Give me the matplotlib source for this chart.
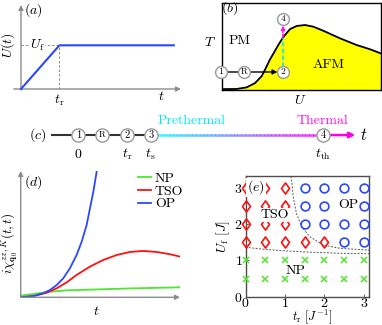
import numpy as np
import matplotlib
matplotlib.use("Agg")
import matplotlib.pyplot as plt
from matplotlib.collections import LineCollection
from matplotlib.colors import to_rgb
from matplotlib.path import Path

plt.rcParams['font.family'] = ['cmr10', 'DejaVu Serif']
plt.rcParams['mathtext.fontset'] = 'cm'
plt.rcParams['axes.unicode_minus'] = False
plt.rcParams['axes.formatter.use_mathtext'] = True

# ---------------- data ----------------
# (a) ramp protocol
ramp_t = [0.0, 0.24, 0.955]
ramp_U = [0.0, 0.52, 0.52]
t_r_a = 0.24
U_f_a = 0.52

# (b) phase boundary T_N(U)
U_b = [0.0, 0.092, 0.155, 0.208, 0.25, 0.275, 0.30, 0.33, 0.354, 0.386, 0.428,
       0.47, 0.522, 0.574, 0.637, 0.742, 0.847, 0.931, 1.0]
T_b = [0.01, 0.012, 0.03, 0.08, 0.16, 0.25, 0.345, 0.44, 0.517, 0.61, 0.70,
       0.736, 0.747, 0.728, 0.681, 0.594, 0.517, 0.468, 0.42]
node_b_labels = ['1', 'R', '2', '4']
node_b_U = [-0.006, 0.138, 0.384, 0.384]
node_b_T = [0.207, 0.207, 0.207, 0.816]

# (c) timeline
tl_labels = ['1', 'R', '2', '3', '4']
tl_pos = [0.205, 0.268, 0.332, 0.3945, 0.846]
tl_ticks = ['$0$', '', r'$t_{\rm r}$', r'$t_{\rm s}$', r'$t_{\rm th}$']

# (d) susceptibility curves
t_OP = [0, 0.0797, 0.142, 0.184, 0.226, 0.267, 0.309, 0.351, 0.383, 0.414, 0.435, 0.456, 0.477]
y_OP = [0, 0.010, 0.032, 0.058, 0.097, 0.150, 0.230, 0.335, 0.441, 0.573, 0.705, 0.837, 0.996]
t_TSO = [0, 0.0797, 0.163, 0.226, 0.289, 0.351, 0.435, 0.519, 0.603, 0.686, 0.770, 0.854, 0.937, 1.0]
y_TSO = [0, 0.010, 0.036, 0.071, 0.119, 0.177, 0.243, 0.296, 0.335, 0.359, 0.367, 0.359, 0.341, 0.322]
t_NP = [0, 0.0797, 0.184, 0.289, 0.498, 0.707, 1.0]
y_NP = [0.013, 0.026, 0.044, 0.055, 0.063, 0.071, 0.079]

# (e) phase diagram
tr_vals = [0, 0.5, 1, 1.5, 2, 2.5, 3]
Uf_vals = [0.5, 1.0, 1.5, 2.0, 2.5, 3.0]
phase_rows = ['NNNNNNN', 'NNNNNNN', 'TTTTTOO', 'TTTOOOO', 'TTTOOOO', 'TTTOOOO']
low_x = [0, 0.5, 1, 1.5, 2, 2.5, 3.14]
low_y = [1.36, 1.30, 1.26, 1.23, 1.21, 1.19, 1.18]
up_x = [1.15, 1.17, 1.21, 1.29, 1.42, 1.63, 1.97, 2.40, 3.14]
up_y = [3.31, 3.20, 2.75, 2.30, 1.93, 1.65, 1.42, 1.33, 1.28]

GREEN = '#4ee62e'
RED = '#ff1010'
BLUE = '#2a48ff'
CYAN = '#00e6f2'
MAGENTA = '#ff10e0'

W, H = 382, 325
fig = plt.figure(figsize=(W / 100, H / 100), dpi=100)


def px_axes(x0, y0, x1, y1):
    return fig.add_axes([x0 / W, 1 - y1 / H, (x1 - x0) / W, (y1 - y0) / H])


def arrow(ax, start, end, color='0.5', lw=1.0, ms=7):
    ax.annotate('', xy=end, xytext=start,
                arrowprops=dict(arrowstyle='-|>', color=color, lw=lw,
                                mutation_scale=ms, shrinkA=0, shrinkB=0),
                annotation_clip=False)


def node(ax, x, y, label, ms=8.5, fs=7):
    ax.plot([x], [y], 'o', ms=ms, mfc='white', mec='0.6', mew=1.0,
            zorder=5, clip_on=False)
    ax.text(x, y, label, ha='center', va='center', fontsize=fs, zorder=6)


# ---------------- (a) ----------------
ax = px_axes(21, 5, 181, 89)
ax.set_xlim(0, 1); ax.set_ylim(0, 1); ax.axis('off')
arrow(ax, (-0.045, 0), (1.0, 0), color='0.55', lw=1.0)
arrow(ax, (0, -0.01), (0, 1.0), color='0.55', lw=1.0)
ax.plot([0, t_r_a], [U_f_a, U_f_a], ls=(0, (2.5, 2)), color='0.55', lw=0.7, clip_on=False)
ax.plot([t_r_a, t_r_a], [0, U_f_a], ls=(0, (2.5, 2)), color='0.55', lw=0.7, clip_on=False)
ax.plot(ramp_t, ramp_U, color=BLUE, lw=1.5, clip_on=False, zorder=4)
ax.text(0.10, U_f_a, r'$U_{\rm f}$', ha='center', va='center', fontsize=10,
        bbox=dict(fc='white', ec='none', pad=0.5), zorder=3)
ax.text(t_r_a, -0.13, r'$t_{\rm r}$', ha='center', va='center', fontsize=10)
ax.text(0.875, -0.095, r'$t$', ha='center', va='center', fontsize=10)
ax.text(-0.08, 0.52, r'$U(t)$', ha='center', va='center', fontsize=10, rotation=90)
ax.text(0.08, 0.94, r'$(a)$', ha='center', va='center', fontsize=10)

# ---------------- (b) ----------------
ax = px_axes(222, 3, 381, 90)
ax.set_xlim(0, 1); ax.set_ylim(0, 1)
ax.set_xticks([]); ax.set_yticks([])
for s in ax.spines.values():
    s.set_linewidth(1.0)
ax.fill_between(U_b, 0, T_b, color='#ffff00', lw=0)
ax.plot(U_b, T_b, color='black', lw=1.3)
arrow(ax, (node_b_U[0], node_b_T[0]), (node_b_U[2] - 0.035, node_b_T[2]), color='black', lw=1.0)
ax.plot([node_b_U[2]] * 2, [0.27, 0.594], ls=(0, (3, 1.5)), color=CYAN, lw=1.1)
ax.plot([node_b_U[2]] * 2, [0.594, 0.66], ls=(0, (3, 1.5)), color=MAGENTA, lw=1.1)
arrow(ax, (node_b_U[3], 0.66), (node_b_U[3], 0.74), color=MAGENTA, lw=1.0, ms=6)
for lab, x, y in zip(node_b_labels, node_b_U, node_b_T):
    node(ax, x, y, lab, fs=6.5 if lab == 'R' else 7)
ax.text(-0.075, 0.55, r'$T$', ha='center', va='center', fontsize=10)
ax.text(0.49, -0.115, r'$U$', ha='center', va='center', fontsize=10)
ax.text(0.05, 0.945, r'$(b)$', ha='center', va='center', fontsize=10)
ax.text(0.113, 0.567, 'PM', ha='center', va='center', fontsize=10)
ax.text(0.667, 0.287, 'AFM', ha='center', va='center', fontsize=10)

# ---------------- (c) ----------------
ax = px_axes(0, 110, 382, 165)
ax.set_xlim(0, 1); ax.set_ylim(0, 1); ax.axis('off')
yl = 0.545
ax.plot([0.135, tl_pos[3]], [yl, yl], color='0.2', lw=1.5, zorder=2)
xs = np.linspace(0.408, 0.832, 120)
segs = [[(xs[i], yl), (xs[i + 1], yl)] for i in range(len(xs) - 1)]
c0, c1 = np.array(to_rgb('#00ffff')), np.array(to_rgb('#ff00ff'))
cols = [tuple(c0 + (c1 - c0) * f) for f in np.linspace(0, 1, len(segs))]
ax.add_collection(LineCollection(segs, colors=cols, lw=1.8, zorder=2, capstyle='butt'))
arrow(ax, (0.859, yl), (0.930, yl), color='#ff00e6', lw=1.8, ms=8)
for lab, x, tk in zip(tl_labels, tl_pos, tl_ticks):
    node(ax, x, yl, lab, ms=9.5, fs=7.5 if lab != 'R' else 6.5)
    if tk:
        ax.text(x, 0.20, tk, ha='center', va='center', fontsize=10)
ax.text(0.951, yl, r'$t$', ha='center', va='center', fontsize=12)
ax.text(0.098, yl, r'$(c)$', ha='center', va='center', fontsize=10)
ax.text(0.502, 0.80, 'Prethermal', ha='center', va='center', fontsize=10, color=CYAN)
ax.text(0.845, 0.80, 'Thermal', ha='center', va='center', fontsize=10, color=MAGENTA)

# ---------------- (d) ----------------
ax = px_axes(20.7, 171, 180, 297.3)
ax.set_xlim(0, 1); ax.set_ylim(0, 1); ax.axis('off')
arrow(ax, (0, 0), (1.0, 0), color='0.55', lw=1.0)
arrow(ax, (0, 0), (0, 1.0), color='0.55', lw=1.0)
ax.plot(t_NP, y_NP, color=GREEN, lw=1.3, label='NP')
ax.plot(t_TSO, y_TSO, color=RED, lw=1.3, label='TSO')
ax.plot(t_OP, y_OP, color=BLUE, lw=1.3, label='OP')
ax.legend(loc='upper right', bbox_to_anchor=(1.02, 0.99), frameon=False,
          fontsize=10, handlelength=0.9, handletextpad=0.3, labelspacing=0.0,
          borderpad=0, borderaxespad=0)
ax.text(-0.068, 0.43, r'$i\chi^{zz,K}_{\mathbf{q_0}}(t,t)$', ha='center', va='center',
        fontsize=9.5, rotation=90)
ax.text(0.477, -0.114, r'$t$', ha='center', va='center', fontsize=10)
ax.text(0.079, 0.915, r'$(d)$', ha='center', va='center', fontsize=10)

# ---------------- (e) ----------------
ax = px_axes(245.5, 176.3, 369.3, 296.7)
ax.set_xlim(0, 3.14); ax.set_ylim(0, 3.31)
ax.set_xticks([0, 1, 2, 3]); ax.set_yticks([0, 1, 2, 3])
ax.tick_params(direction='in', length=2, width=0.6, labelsize=10, color='0.3')
ax.tick_params(axis='x', pad=0.5)
ax.tick_params(axis='y', pad=2)
for s in ax.spines.values():
    s.set_linewidth(1.0); s.set_color('0.3')
diamond = Path([(0, 1), (0.72, 0), (0, -1), (-0.72, 0), (0, 1)],
               [Path.MOVETO, Path.LINETO, Path.LINETO, Path.LINETO, Path.CLOSEPOLY])
style = {'N': dict(marker='x', ms=4.3, mew=1.1, color=GREEN, ls='none'),
         'T': dict(marker=diamond, ms=8, mew=1.2, mfc='none', mec=RED, ls='none'),
         'O': dict(marker='o', ms=6.3, mew=1.2, mfc='none', mec=BLUE, ls='none')}
for Uf, row in zip(Uf_vals, phase_rows):
    for key in 'NTO':
        xs_ = [tr for tr, c in zip(tr_vals, row) if c == key]
        if xs_:
            ax.plot(xs_, [Uf] * len(xs_), clip_on=False, zorder=3, **style[key])
ax.plot(low_x, low_y, ls=(0, (2, 1.5)), color='0.35', lw=0.7, zorder=2)
ax.plot(up_x, up_y, ls=(0, (2, 1.5)), color='0.35', lw=0.7, zorder=2)
wb = dict(fc='white', ec='none', pad=0.6)
ax.text(0.26, 3.0, r'$(e)$', ha='center', va='center', fontsize=10, bbox=wb, zorder=5)
ax.text(0.75, 2.25, 'TSO', ha='center', va='center', fontsize=10, bbox=wb, zorder=5)
ax.text(2.61, 2.51, 'OP', ha='center', va='center', fontsize=10, bbox=wb, zorder=5)
ax.text(1.26, 0.71, 'NP', ha='center', va='center', fontsize=10, zorder=5)
ax.text(0.535, -0.165, r'$t_{\rm r}\ [J^{-1}]$', ha='center', va='center',
        fontsize=9, transform=ax.transAxes)
ax.text(-0.18, 0.498, r'$U_{\rm f}\ [J]$', ha='center', va='center',
        fontsize=10, rotation=90, transform=ax.transAxes)

fig.savefig('out.png', dpi=100)
